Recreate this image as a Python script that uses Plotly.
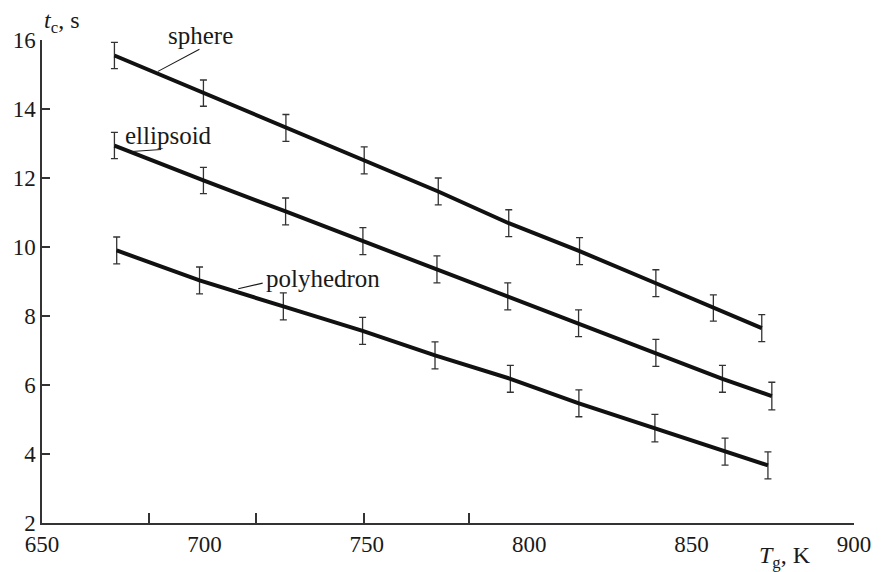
import plotly.graph_objects as go

# ---- data ----
sphere_T = [672.3, 699.7, 725.1, 749.2, 772.0, 793.7, 815.5, 839.0, 856.7, 871.6]
sphere_t = [15.55, 14.46, 13.45, 12.51, 11.61, 10.69, 9.88, 8.95, 8.23, 7.65]
sphere_err = [0.38, 0.38, 0.39, 0.39, 0.39, 0.39, 0.39, 0.39, 0.38, 0.39]

ellipsoid_T = [672.3, 699.7, 725.0, 748.8, 771.6, 793.4, 815.2, 839.0, 859.5, 874.7]
ellipsoid_t = [12.94, 11.93, 11.03, 10.17, 9.35, 8.57, 7.79, 6.93, 6.18, 5.68]
ellipsoid_err = [0.38, 0.38, 0.39, 0.39, 0.39, 0.39, 0.39, 0.39, 0.39, 0.40]

polyhedron_T = [673.0, 698.5, 724.3, 748.7, 771.0, 794.2, 815.3, 838.7, 860.3, 873.5]
polyhedron_t = [9.90, 9.03, 8.28, 7.57, 6.86, 6.18, 5.47, 4.75, 4.07, 3.67]
polyhedron_err = [0.39, 0.39, 0.39, 0.39, 0.39, 0.39, 0.39, 0.40, 0.39, 0.39]

x_tick_labels = [650, 700, 750, 800, 850, 900]
x_tick_marks = [683, 716, 749, 781.5, 899.7]
y_ticks = [2, 4, 6, 8, 10, 12, 14, 16]

FONT = "Liberation Serif, Times New Roman, serif"
INK = "#1a1a1a"

fig = go.Figure()
series = [(sphere_T, sphere_t, sphere_err, "x2"),
          (ellipsoid_T, ellipsoid_t, ellipsoid_err, "x"),
          (polyhedron_T, polyhedron_t, polyhedron_err, "x")]
for T, t, e, xa in series:
    fig.add_trace(go.Scatter(
        x=T, y=t, mode="lines", xaxis=xa, yaxis="y",
        line=dict(color="#111111", width=4),
        error_y=dict(type="data", array=e, visible=True,
                     color="#333333", thickness=1.3, width=3.5),
        showlegend=False, hoverinfo="skip"))

# labels with leader lines
labels = [
    # text, text paper x, paper y, head data x, head data y, ax, ay
    ("sphere", 0.195, 1.010, 685.7, 15.09, 43, -23),
    ("ellipsoid", 0.156, 0.803, 677.6, 12.77, 31, -2),
    ("polyhedron", 0.346, 0.506, 710.4, 8.79, 26, -6),
]
for txt, px, py, hx, hy, ax, ay in labels:
    fig.add_annotation(x=hx, y=hy, xref="x", yref="y", text="", showarrow=True,
                       ax=ax, ay=ay, arrowhead=0, arrowwidth=1.1, arrowcolor=INK,
                       standoff=0, startstandoff=0)
    fig.add_annotation(x=px, y=py, xref="paper", yref="paper", text=txt,
                       showarrow=False, font=dict(family=FONT, size=25, color=INK),
                       xanchor="center", yanchor="middle")

# axis titles
fig.add_annotation(x=0.0, y=1.037, xref="paper", yref="paper",
                   text="<i>t</i><sub>c</sub>, s", showarrow=False,
                   font=dict(family=FONT, size=24, color=INK),
                   xanchor="left", yanchor="middle")
fig.add_annotation(x=0.915, y=-0.070, xref="paper", yref="paper",
                   text="<i>T</i><sub>g</sub>, K", showarrow=False,
                   font=dict(family=FONT, size=24, color=INK),
                   xanchor="center", yanchor="middle")

fig.update_layout(
    width=883, height=572,
    margin=dict(l=42, r=21, t=40, b=49),
    paper_bgcolor="white", plot_bgcolor="white",
    font=dict(family=FONT, size=23, color=INK),
    xaxis=dict(range=[650, 900], tickmode="array", tickvals=x_tick_labels,
               ticks="", showgrid=False, zeroline=False,
               showline=True, linecolor="#333333", linewidth=1.5,
               tickfont=dict(family=FONT, size=23, color=INK)),
    xaxis2=dict(range=[650, 900], overlaying="x", anchor="y", side="bottom",
                tickmode="array", tickvals=x_tick_marks, ticks="inside",
                ticklen=10, tickwidth=1.5, tickcolor="#333333",
                showticklabels=False, showgrid=False, zeroline=False,
                showline=False),
    yaxis=dict(range=[2, 16], tickmode="array", tickvals=y_ticks,
               ticks="inside", ticklen=8, tickwidth=1.5, tickcolor="#333333",
               showgrid=False, zeroline=False,
               showline=True, linecolor="#333333", linewidth=1.5,
               tickfont=dict(family=FONT, size=23, color=INK)),
)

fig.write_html("out.html")
